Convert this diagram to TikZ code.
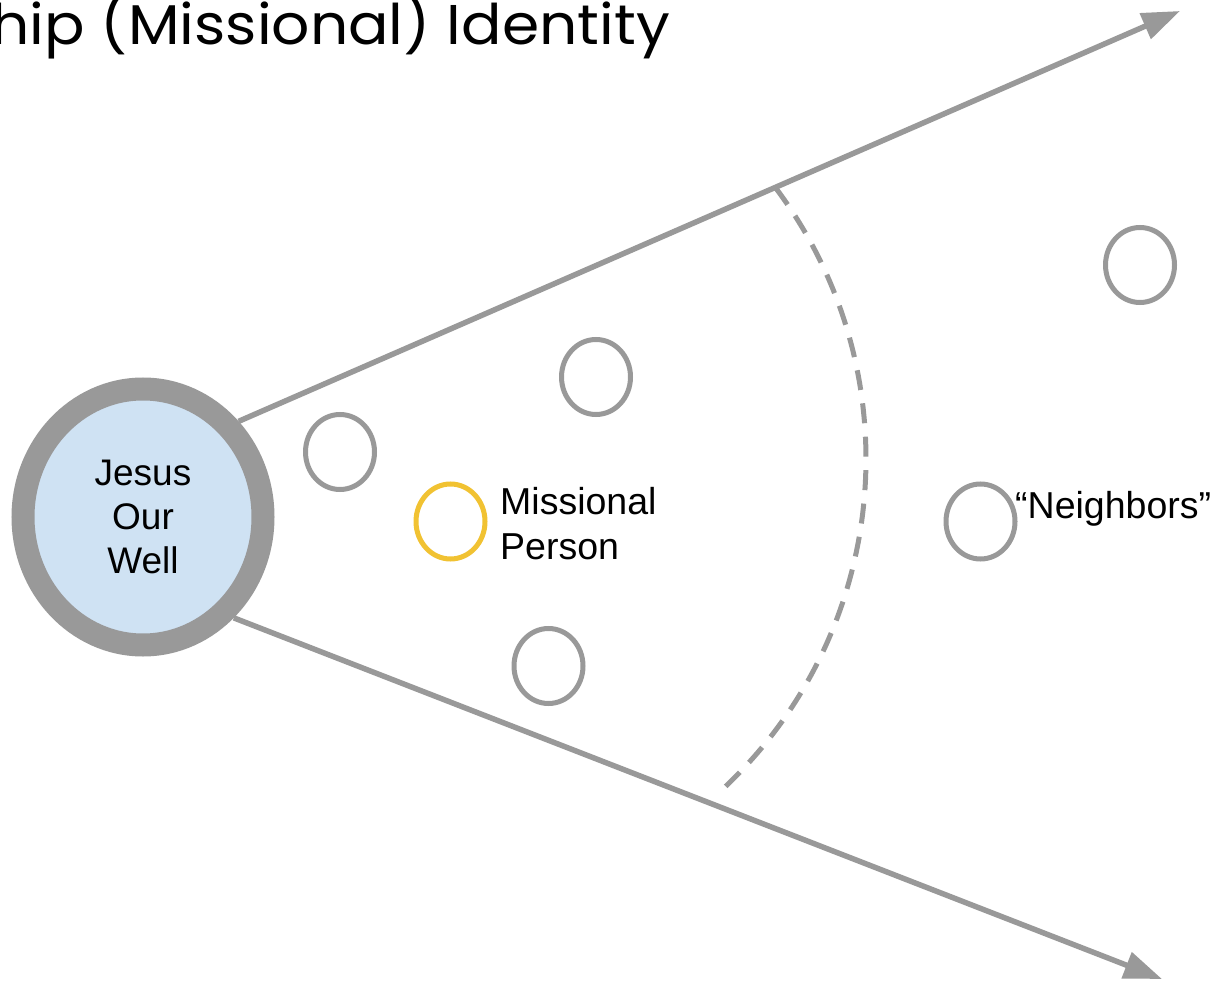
\documentclass[tikz,border=0pt]{standalone}
\usepackage{fontspec}
\setmainfont{Liberation Sans}
\newfontfamily\titlefont{Poppins}
\usetikzlibrary{shapes.geometric,arrows.meta}
\definecolor{ringgray}{HTML}{999999}
\definecolor{wellblue}{HTML}{CFE2F3}
\definecolor{missyellow}{HTML}{F1C232}
\tikzset{
  person/.style={ellipse, draw=ringgray, line width=5pt, minimum width=69pt, minimum height=75pt, inner sep=0pt},
  ray/.style={draw=ringgray, line width=5.5pt, -{Triangle[length=38pt,width=27pt]}},
  label/.style={inner sep=0pt, font=\fontsize{37.5}{45}\selectfont},
}
\begin{document}
\begin{tikzpicture}[x=1pt,y=-1pt]
\fill[white] (0,0) rectangle (1215,981);
\useasboundingbox (0,0) rectangle (1215,981);
\begin{scope}
\clip (0,0) rectangle (1215,981);
\node[anchor=base east, inner sep=0pt, xscale=1.07, font=\titlefont\fontsize{56}{60}\selectfont] (title) at (670,45) {hip (Missional) Identity};
\end{scope}
\node[ellipse, draw=ringgray, fill=wellblue, line width=23pt, minimum width=240pt, minimum height=256pt, inner sep=0pt, align=center, font=\fontsize{37}{44}\selectfont] (well) at (143,517) {Jesus\\Our\\Well};
\coordinate (tipU) at (1180,11);
\coordinate (tipL) at (1162,979);
\draw[ray] (well.45) -- (tipU);
\draw[ray] (well.-48) -- (tipL);
\coordinate (arcc) at (414,459);
\draw[ringgray, line width=5pt, dash pattern=on 20pt off 13.5pt] ([shift={(-36.8:452)}]arcc) arc[start angle=-36.8, end angle=46.4, radius=452];
\node[person] (c1) at (340,452) {};
\node[person] (c2) at (596,377) {};
\node[person, draw=missyellow] (mp) at (450.5,521.5) {};
\node[person] (c3) at (548.5,666) {};
\node[person] (nb) at (980.5,521.5) {};
\node[person] (far) at (1140,265) {};
\node[label, anchor=north west, align=left] (mplabel) at (500,487) {Missional\\Person};
\node[label, anchor=base west] (nblabel) at (1015,518) {“Neighbors”};
\end{tikzpicture}
\end{document}
